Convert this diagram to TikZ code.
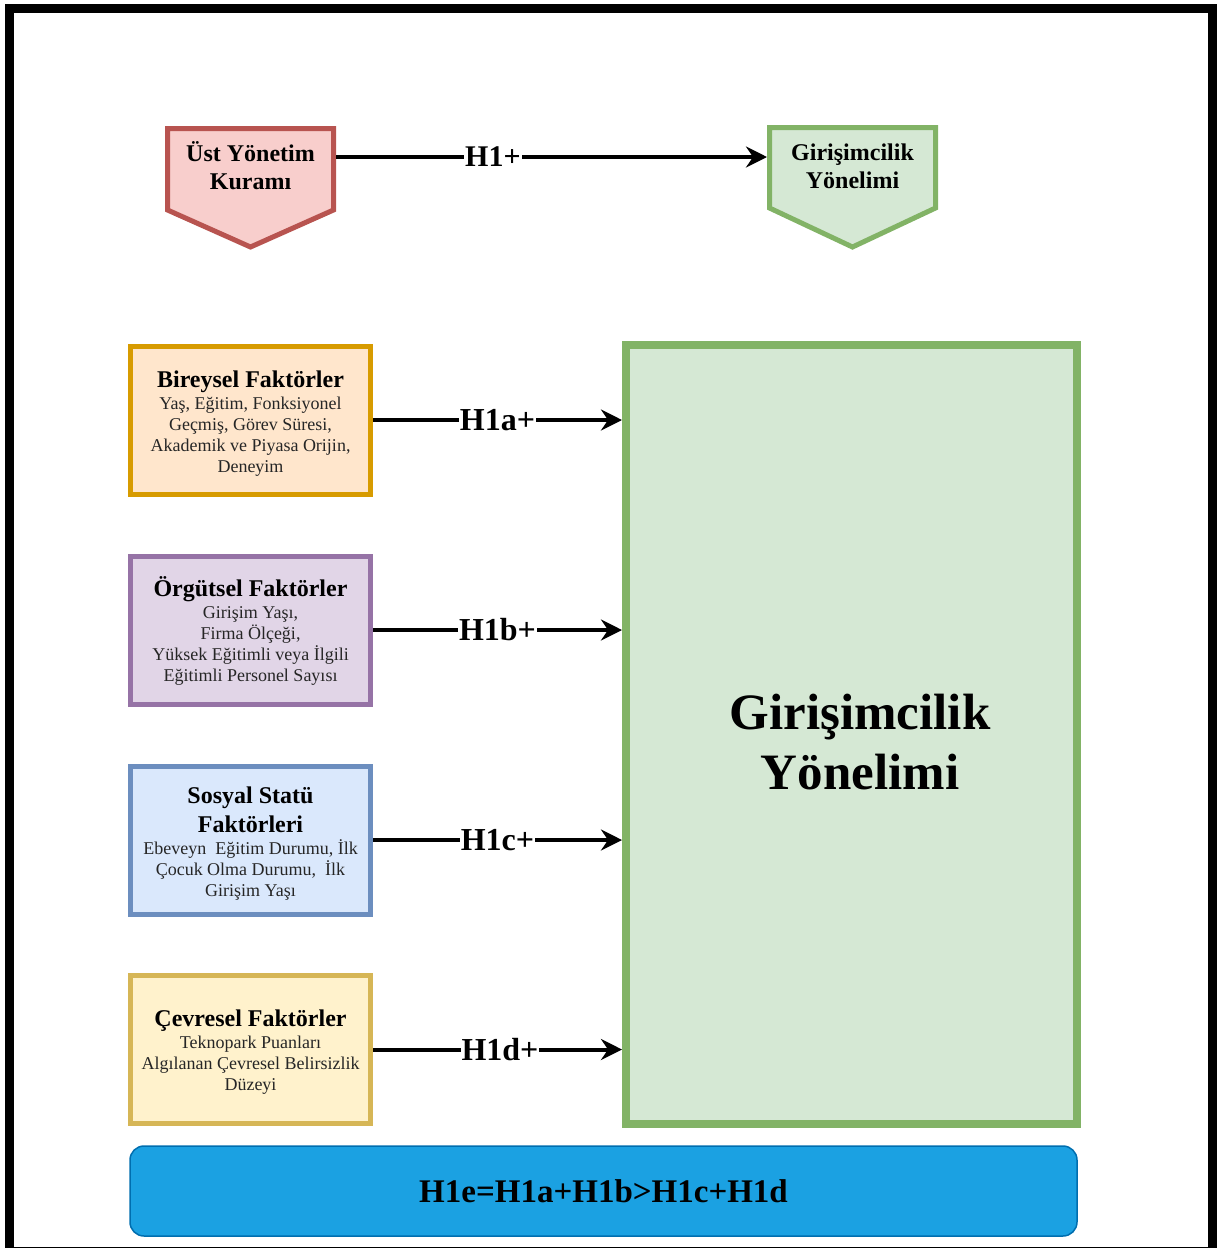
\documentclass[tikz,border=0pt]{standalone}
\usepackage{fontspec}
\setmainfont{Liberation Serif}
\usetikzlibrary{arrows.meta,calc}
\definecolor{redF}{HTML}{F8CECC}\definecolor{redD}{HTML}{B85450}
\definecolor{grnF}{HTML}{D5E8D4}\definecolor{grnD}{HTML}{82B366}
\definecolor{orgF}{HTML}{FFE6CC}\definecolor{orgD}{HTML}{D79B00}
\definecolor{purF}{HTML}{E1D5E7}\definecolor{purD}{HTML}{9673A6}
\definecolor{bluF}{HTML}{DAE8FC}\definecolor{bluD}{HTML}{6C8EBF}
\definecolor{yelF}{HTML}{FFF2CC}\definecolor{yelD}{HTML}{D6B656}
\definecolor{cyaF}{HTML}{1BA1E2}\definecolor{cyaD}{HTML}{006EAF}
\definecolor{detail}{HTML}{262626}
\newcommand{\ftitle}[1]{{\bfseries\fontsize{24}{28}\selectfont\color{black}#1}}
\begin{document}
\begin{tikzpicture}[x=1pt,y=-1pt,
  frame/.style={draw=black,line width=9pt},
  pent/.style={line width=5pt,line join=miter},
  pentxt/.style={align=center,inner sep=0pt,font=\bfseries\fontsize{24}{28}\selectfont},
  factbox/.style={line width=5pt,minimum width=240pt,minimum height=148pt,inner sep=0pt},
  facttxt/.style={align=center,inner sep=0pt,font=\fontsize{18}{21}\selectfont,text=detail},
  bigbox/.style={draw=grnD,fill=grnF,line width=8pt,minimum width=451pt,minimum height=779pt},
  bigtxt/.style={align=center,inner sep=0pt,font=\bfseries\fontsize{51}{60}\selectfont},
  sumbox/.style={draw=cyaD,fill=cyaF,line width=1.5pt,rounded corners=14pt,minimum width=947pt,minimum height=90pt,
     font=\bfseries\fontsize{33}{38}\selectfont},
  arr/.style={line width=4pt,-{Stealth[length=21pt,width=21pt,inset=7pt]}},
  lbl/.style={fill=white,inner sep=1pt,font=\bfseries\fontsize{32}{36}\selectfont},
  tlbl/.style={fill=white,inner sep=1pt,font=\bfseries\fontsize{30}{34}\selectfont}
]
\useasboundingbox (0,0) rectangle (1217,1248);
\begin{scope}
\clip (0,0) rectangle (1217,1248);
\draw[frame] (9.5,8) rectangle (1212.5,1251);
\end{scope}

% top pentagons
\filldraw[pent,draw=redD,fill=redF] (167.5,128.5) -- (333.5,128.5) -- (333.5,210) -- (250.5,247) -- (167.5,210) -- cycle;
\node[pentxt] (ust) at (250.5,166) {Üst Yönetim\\Kuramı};
\filldraw[pent,draw=grnD,fill=grnF] (769.5,127.5) -- (935.5,127.5) -- (935.5,208) -- (852.5,247) -- (769.5,208) -- cycle;
\node[pentxt] (gir) at (852.5,166.5) {Girişimcilik\\Yönelimi};
\coordinate (ustE) at (336,157);
\coordinate (girW) at (767,157);
\draw[arr] (ustE) -- node[tlbl,pos=0.364] (h1) {H1+} (girW);

% big box
\node[bigbox] (gy) at (851.5,734.5) {};
\node[bigtxt] (gyt) at (860,742.5) {Girişimcilik\\Yönelimi};

% factor boxes
\node[factbox,draw=orgD,fill=orgF] (b1) at (250.5,420) {};
\node[facttxt] (b1t) at ($(b1.center)+(0,4)$) {\ftitle{Bireysel Faktörler}\\[1pt]
 Yaş, Eğitim, Fonksiyonel\\Geçmiş, Görev Süresi,\\Akademik ve Piyasa Orijin,\\Deneyim};
\node[factbox,draw=purD,fill=purF] (b2) at (250.5,630) {};
\node[facttxt] (b2t) at ($(b2.center)+(0,1)$) {\ftitle{Örgütsel Faktörler}\\[1pt]
 Girişim Yaşı,\\Firma Ölçeği,\\Yüksek Eğitimli veya İlgili\\Eğitimli Personel Sayısı};
\node[factbox,draw=bluD,fill=bluF] (b3) at (250.5,840) {};
\node[facttxt] (b3t) at ($(b3.center)+(0,3.5)$) {\ftitle{Sosyal Statü}\\[7pt]
 \ftitle{Faktörleri}\\[1pt]
 Ebeveyn\ \ Eğitim Durumu, İlk\\Çocuk Olma Durumu,\ \ İlk\\Girişim Yaşı};
\node[factbox,draw=yelD,fill=yelF] (b4) at (250.5,1049.5) {};
\node[facttxt] (b4t) at ($(b4.center)+(0,3)$) {\ftitle{Çevresel Faktörler}\\[1pt]
 Teknopark Puanları\\Algılanan Çevresel Belirsizlik\\Düzeyi};

\draw[arr] (b1.east) -- node[lbl] (h1a) {H1a+} (b1.east -| gy.west);
\draw[arr] (b2.east) -- node[lbl] (h1b) {H1b+} (b2.east -| gy.west);
\draw[arr] (b3.east) -- node[lbl] (h1c) {H1c+} (b3.east -| gy.west);
\draw[arr] (b4.east) -- node[lbl,pos=0.51] (h1d) {H1d+} (b4.east -| gy.west);

% summary
\node[sumbox] (sum) at (603.5,1191) {H1e=H1a+H1b>H1c+H1d};
\end{tikzpicture}
\end{document}
